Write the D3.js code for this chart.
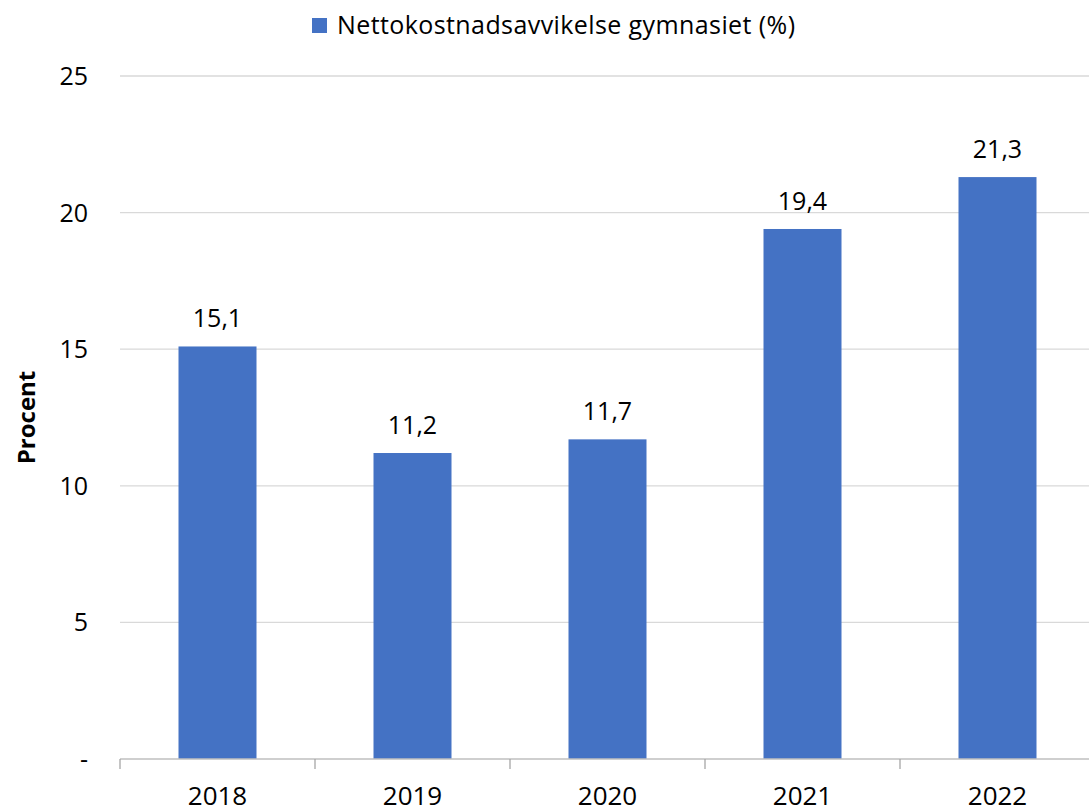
<!DOCTYPE html>
<meta charset="utf-8">
<title>Nettokostnadsavvikelse gymnasiet</title>
<script src="https://d3js.org/d3.v7.min.js"></script>
<style>
    body { margin: 0; background: #fff; }
    text { font-family: "Open Sans", "Liberation Sans", sans-serif; fill: #000; }
</style>
<body>
<div id="chart"></div>
<script>
    // data
    var years = ["2018", "2019", "2020", "2021", "2022"];
    var values = [15.1, 11.2, 11.7, 19.4, 21.3];
    var yTicks = [0, 5, 10, 15, 20, 25];
    var seriesName = "Nettokostnadsavvikelse gymnasiet (%)";

    var W = 1089, H = 808;
    var margin = {top: 76, right: -6, bottom: 49, left: 120};
    var width = W - margin.left - margin.right,
        height = H - margin.top - margin.bottom;

    var svg = d3.select("#chart").append("svg")
        .attr("width", W).attr("height", H);
    var g = svg.append("g")
        .attr("transform", "translate(" + margin.left + "," + margin.top + ")");

    var x = d3.scaleBand().domain(years).range([0, width]).paddingInner(0.6).paddingOuter(0.3);
    var y = d3.scaleLinear().domain([0, 25]).range([height, 0]);

    // gridlines
    g.selectAll(".grid").data(yTicks.filter(function(d){ return d > 0; })).enter()
        .append("line")
        .attr("x1", 0).attr("x2", width)
        .attr("y1", function(d){ return y(d); }).attr("y2", function(d){ return y(d); })
        .style("stroke", "#d9d9d9").style("stroke-width", 1.3);

    // y labels
    g.selectAll(".ylab").data(yTicks).enter()
        .append("text")
        .attr("x", -32).attr("y", function(d){ return y(d); })
        .attr("dy", "0.36em")
        .attr("text-anchor", "end")
        .style("font-size", "25px")
        .text(function(d){ return d === 0 ? "-" : d; });

    // bars
    g.selectAll(".bar").data(values).enter()
        .append("rect")
        .attr("x", function(d, i){ return x(years[i]); })
        .attr("width", x.bandwidth())
        .attr("y", function(d){ return y(d); })
        .attr("height", function(d){ return height - y(d); })
        .style("fill", "#4472c4");

    // value labels
    g.selectAll(".vlab").data(values).enter()
        .append("text")
        .attr("x", function(d, i){ return x(years[i]) + x.bandwidth() / 2; })
        .attr("y", function(d){ return y(d) - 19; })
        .attr("text-anchor", "middle")
        .style("font-size", "25px")
        .text(function(d){ return String(d).replace(".", ","); });

    // x axis
    var step = x.step();
    g.append("line")
        .attr("x1", 0).attr("x2", width)
        .attr("y1", height).attr("y2", height)
        .style("stroke", "#bfbfbf").style("stroke-width", 1.3);
    g.selectAll(".xtick").data(d3.range(years.length + 1)).enter()
        .append("line")
        .attr("x1", function(i){ return i * step; }).attr("x2", function(i){ return i * step; })
        .attr("y1", height).attr("y2", height + 10)
        .style("stroke", "#a6a6a6").style("stroke-width", 1.3);
    g.selectAll(".xlab").data(years).enter()
        .append("text")
        .attr("x", function(d){ return x(d) + x.bandwidth() / 2; })
        .attr("y", height + 46)
        .attr("text-anchor", "middle")
        .style("font-size", "26px")
        .text(function(d){ return d; });

    // y title
    svg.append("text")
        .attr("transform", "translate(35," + (margin.top + height * 0.5) + ") rotate(-90)")
        .attr("text-anchor", "middle")
        .style("font-size", "24px")
        .style("font-weight", "bold")
        .text("Procent");

    // legend
    svg.append("rect")
        .attr("x", 312).attr("y", 18).attr("width", 15).attr("height", 15)
        .style("fill", "#4472c4");
    svg.append("text")
        .attr("x", 337).attr("y", 34)
        .style("font-size", "25px")
        .attr("textLength", 458)
        .text(seriesName);
</script>
</body>
